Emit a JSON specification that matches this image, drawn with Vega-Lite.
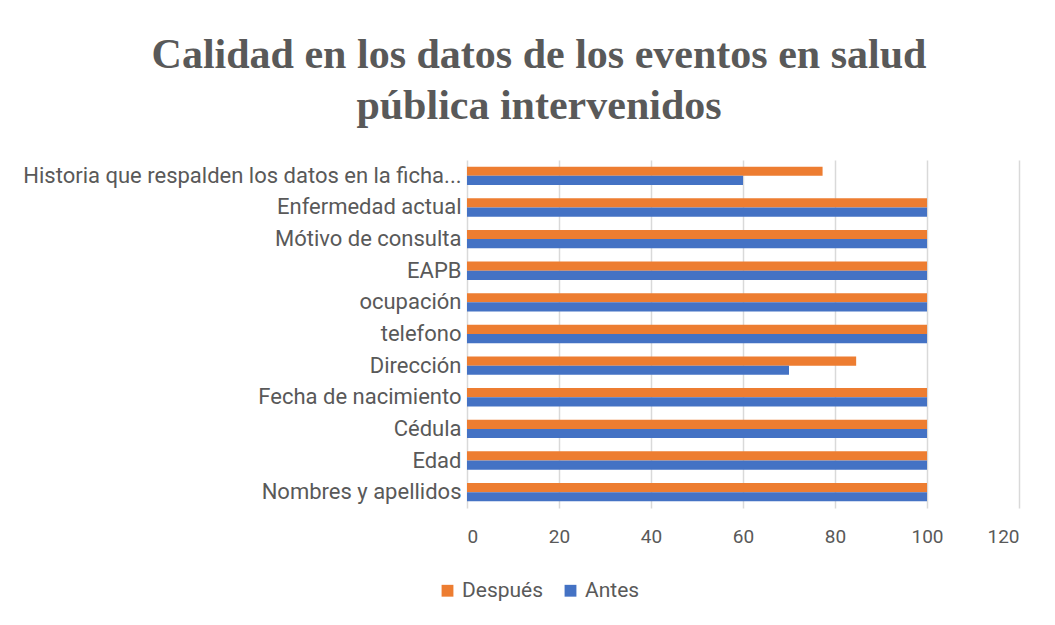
{
  "$schema": "https://vega.github.io/schema/vega-lite/v6.json",
  "width": 552,
  "height": 348,
  "autosize": {"type": "none"},
  "padding": {"left": 467, "top": 160, "right": 36, "bottom": 117},
  "background": "white",
  "title": {
    "text": ["Calidad en los datos de los eventos en salud", "pública intervenidos"],
    "font": "Liberation Serif",
    "fontSize": 42,
    "fontWeight": "bold",
    "color": "#595959",
    "anchor": "middle",
    "frame": "group",
    "dx": -204,
    "offset": 32,
    "lineHeight": 51
  },
  "data": {
    "values": [
      {"campo": "Historia que respalden los datos en la ficha...", "momento": "Después", "valor": 77.3},
      {"campo": "Historia que respalden los datos en la ficha...", "momento": "Antes", "valor": 60},
      {"campo": "Enfermedad actual", "momento": "Después", "valor": 100},
      {"campo": "Enfermedad actual", "momento": "Antes", "valor": 100},
      {"campo": "Mótivo de consulta", "momento": "Después", "valor": 100},
      {"campo": "Mótivo de consulta", "momento": "Antes", "valor": 100},
      {"campo": "EAPB", "momento": "Después", "valor": 100},
      {"campo": "EAPB", "momento": "Antes", "valor": 100},
      {"campo": "ocupación ", "momento": "Después", "valor": 100},
      {"campo": "ocupación ", "momento": "Antes", "valor": 100},
      {"campo": "telefono", "momento": "Después", "valor": 100},
      {"campo": "telefono", "momento": "Antes", "valor": 100},
      {"campo": "Dirección", "momento": "Después", "valor": 84.6},
      {"campo": "Dirección", "momento": "Antes", "valor": 70},
      {"campo": "Fecha de nacimiento", "momento": "Después", "valor": 100},
      {"campo": "Fecha de nacimiento", "momento": "Antes", "valor": 100},
      {"campo": "Cédula", "momento": "Después", "valor": 100},
      {"campo": "Cédula", "momento": "Antes", "valor": 100},
      {"campo": "Edad", "momento": "Después", "valor": 100},
      {"campo": "Edad", "momento": "Antes", "valor": 100},
      {"campo": "Nombres y apellidos", "momento": "Después", "valor": 100},
      {"campo": "Nombres y apellidos", "momento": "Antes", "valor": 100}
    ]
  },
  "mark": {"type": "bar"},
  "encoding": {
    "y": {
      "field": "campo",
      "type": "nominal",
      "sort": null,
      "scale": {"paddingInner": 0.42, "paddingOuter": 0.21},
      "axis": {
        "title": null,
        "domain": false,
        "ticks": false,
        "labelFont": "Roboto",
        "labelFontSize": 22,
        "labelColor": "#595959",
        "labelLimit": 0,
        "labelPadding": 6
      }
    },
    "yOffset": {
      "field": "momento",
      "type": "nominal",
      "sort": ["Después", "Antes"],
      "scale": {"paddingInner": 0}
    },
    "x": {
      "field": "valor",
      "type": "quantitative",
      "scale": {"domain": [0, 120], "nice": false},
      "axis": {
        "title": null,
        "domain": false,
        "ticks": false,
        "values": [0, 20, 40, 60, 80, 100, 120],
        "gridColor": "#D9D9D9",
        "gridWidth": 1.5,
        "labelFont": "Roboto",
        "labelFontSize": 19,
        "labelColor": "#595959",
        "labelPadding": 19
      }
    },
    "color": {
      "field": "momento",
      "type": "nominal",
      "sort": ["Después", "Antes"],
      "scale": {"domain": ["Después", "Antes"], "range": ["#ED7D31", "#4472C4"]},
      "legend": {
        "title": null,
        "orient": "none",
        "direction": "horizontal",
        "legendX": -30,
        "legendY": 420,
        "symbolType": "square",
        "symbolSize": 140,
        "symbolStrokeWidth": 0,
        "labelFont": "Roboto",
        "labelFontSize": 21,
        "labelColor": "#595959",
        "labelOffset": 4,
        "columnPadding": 16
      }
    }
  },
  "config": {"view": {"stroke": null}}
}
